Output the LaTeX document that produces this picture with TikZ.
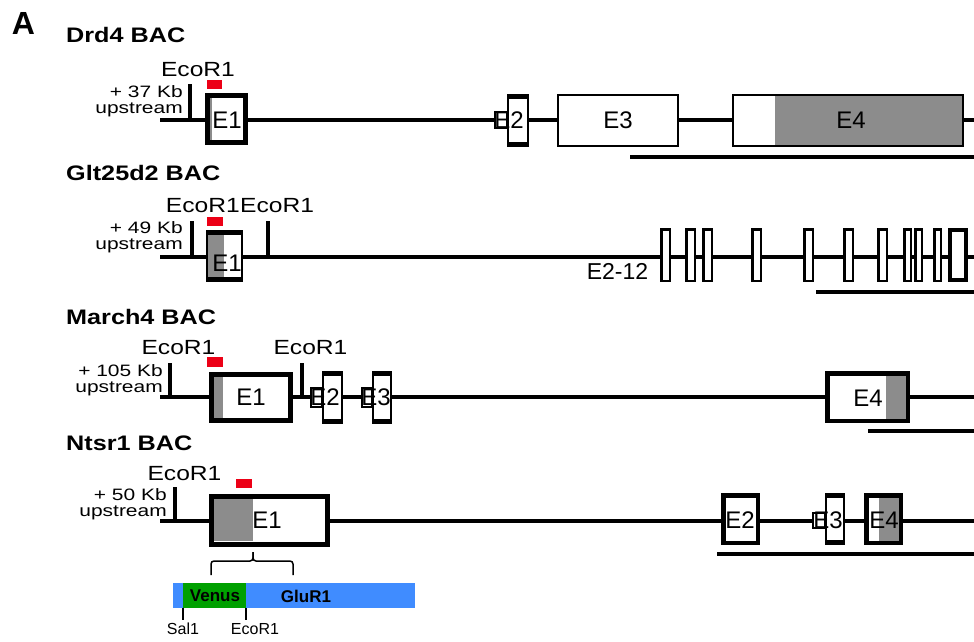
\documentclass[tikz,border=0pt]{standalone}
\usepackage{fontspec}
\setmainfont{Liberation Sans}

\definecolor{probered}{RGB}{236,0,22}
\definecolor{utrgrey}{RGB}{140,140,140}
\definecolor{venusgreen}{RGB}{0,160,0}
\definecolor{glublue}{RGB}{64,140,255}

% exon with thin sides and thick top/bottom: {x1}{x2}{y1}{y2}
\newcommand{\tallexon}[4]{%
  \fill[white] (#1,#3) rectangle (#2,#4);
  \draw[line width=2pt] (#1+1,#3) -- (#1+1,#4) (#2-1,#3) -- (#2-1,#4);
  \draw[line width=5pt] (#1,#3+2.5) -- (#2,#3+2.5) (#1,#4-2.5) -- (#2,#4-2.5);
}

\begin{document}
\begin{tikzpicture}[x=1pt,y=-1pt,
  backbone/.style={line width=3.5pt},
  cutsite/.style={line width=3.5pt},
  probe/.style={fill=probered},
  exon/.style={draw,fill=white,line width=2.5pt},
  bigexon/.style={draw,line width=5pt},
  minibox/.style={draw,fill=white,line width=2pt},
  cover/.style={line width=4.5pt},
  genename/.style={font=\bfseries\fontsize{21}{24}\selectfont,xscale=1.2,anchor=west,inner sep=0},
  enzyme/.style={font=\fontsize{20.5}{24}\selectfont,xscale=1.2,anchor=base,inner sep=0},
  upstr/.style={font=\fontsize{16.5}{15.5}\selectfont,xscale=1.27,align=right,anchor=east,inner sep=0},
  exlabel/.style={font=\fontsize{24}{26}\selectfont,inner sep=0},
  tiny/.style={font=\fontsize{16}{18}\selectfont,anchor=base,inner sep=0},
  ]

\useasboundingbox (0,0) rectangle (974,641);

\node[font=\bfseries\fontsize{32}{34}\selectfont,inner sep=0] (panel) at (23.5,23) {A};

%=== Drd4 ===
\node[genename] (drd4) at (66,35) {Drd4 BAC};
\draw[backbone] (160,120) -- (974,120);
\draw[cutsite] (190,84) -- (190,120);
\node[enzyme] (drd4eco) at (198,76) {EcoR1};
\node[upstr] (drd4up) at (183,101) {+ 37 Kb\\upstream};
\fill[probe] (207,80) rectangle (222,89);
% E1
\fill[white] (205,93) rectangle (248,145);
\fill[utrgrey] (210,98) rectangle (212,140);
\draw[bigexon] (207.5,95.5) rectangle (245.5,142.5);
\node[exlabel] (drd4e1) at (227,120) {E1};
% E2
\draw[minibox] (495,112) rectangle (507,128);
\tallexon{507}{529}{94}{147}
\node[exlabel] (drd4e2) at (509,120) {E2};
% E3, E4
\draw[exon] (558,95) rectangle (678,146);
\node[exlabel] (drd4e3) at (618,120) {E3};
\fill[white] (733,95) rectangle (963,146);
\fill[utrgrey] (775,95) rectangle (963,146);
\draw[line width=2.5pt] (733,95) rectangle (963,146);
\node[exlabel] (drd4e4) at (851,120) {E4};
\draw[cover] (630,157) -- (974,157);

%=== Glt25d2 ===
\node[genename] (glt) at (66,173) {Glt25d2 BAC};
\draw[backbone] (160,257) -- (974,257);
\draw[cutsite] (192,221) -- (192,257);
\draw[cutsite] (268,221) -- (268,257);
\node[enzyme,anchor=base east] (glteco1) at (240,212) {EcoR1};
\node[enzyme,anchor=base west] (glteco2) at (240,212) {EcoR1};
\node[upstr] (gltup) at (183,237) {+ 49 Kb\\upstream};
\fill[probe] (207,217) rectangle (223,226);
% E1
\fill[white] (206,230) rectangle (243,282);
\fill[utrgrey] (207,230) rectangle (224,282);
\draw[line width=2pt] (207,230) -- (207,282) (242,230) -- (242,282);
\draw[line width=5pt] (206,232.5) -- (243,232.5) (206,279.5) -- (243,279.5);
\node[exlabel] (glte1) at (227,263) {E1};
% E2-12
\foreach \xa/\xb in {660/671,685/696,702/713,751/762,803/814,843/854,877/888,903/912,914/923,933/942}
  \draw[exon] (\xa+1.25,229.25) rectangle (\xb-1.25,280.75);
\draw[exon,line width=4pt] (950,230) rectangle (966,280);
\node[font=\fontsize{23}{24}\selectfont,inner sep=0] (glte212) at (617.5,271) {E2-12};
\draw[cover] (816,292) -- (974,292);

%=== March4 ===
\node[genename] (march) at (66,317) {March4 BAC};
\draw[backbone] (160,397) -- (974,397);
\draw[cutsite] (170,363) -- (170,397);
\draw[cutsite] (302,363) -- (302,397);
\node[enzyme] (marcheco1) at (178.5,354) {EcoR1};
\node[enzyme] (marcheco2) at (310.5,354) {EcoR1};
\node[upstr] (marchup) at (163,380) {+ 105 Kb\\upstream};
\fill[probe] (207,357) rectangle (223,367);
% E1
\fill[white] (209,372) rectangle (293,423);
\fill[utrgrey] (211,374) rectangle (223,421);
\draw[bigexon] (211.5,374.5) rectangle (290.5,420.5);
\node[exlabel] (marche1) at (251,397.5) {E1};
% E2, E3
\draw[minibox] (311,388) rectangle (322,407);
\tallexon{322}{343}{371}{424}
\node[exlabel] (marche2) at (325,397.5) {E2};
\draw[minibox] (362,388) rectangle (372,407);
\tallexon{372}{392}{371}{424}
\node[exlabel] (marche3) at (376,397.5) {E3};
% E4
\fill[white] (825,371) rectangle (910,423);
\fill[utrgrey] (886,373) rectangle (908,421);
\draw[bigexon,line width=4.5pt] (827.25,373.25) rectangle (907.75,420.75);
\node[exlabel] (marche4) at (868,398) {E4};
\draw[cover] (868,431) -- (974,431);

%=== Ntsr1 ===
\node[genename] (ntsr) at (66,443) {Ntsr1 BAC};
\draw[backbone] (160,521) -- (974,521);
\draw[cutsite] (175,487) -- (175,521);
\node[enzyme] (ntsreco) at (184.5,480) {EcoR1};
\node[upstr] (ntsrup) at (167,504) {+ 50 Kb\\upstream};
\fill[probe] (236,479) rectangle (252,488);
% E1
\fill[white] (209,494) rectangle (330,547);
\fill[utrgrey] (212,497) rectangle (253,541);
\draw[bigexon] (211.5,496.5) rectangle (327.5,544.5);
\node[exlabel] (ntsre1) at (267,520) {E1};
% E2, E3, E4
\fill[white] (721,493) rectangle (760,545);
\draw[bigexon,line width=4.5pt] (723.25,495.25) rectangle (757.75,542.75);
\node[exlabel] (ntsre2) at (740,520) {E2};
\draw[minibox] (813,513) rectangle (825,528);
\tallexon{825}{845}{493}{545}
\node[exlabel] (ntsre3) at (828,520) {E3};
\fill[white] (864,493) rectangle (903,545);
\fill[utrgrey] (879,495) rectangle (901,543);
\draw[bigexon,line width=4.5pt] (866.25,495.25) rectangle (900.75,542.75);
\node[exlabel] (ntsre4) at (884,520) {E4};
\draw[cover] (717,554) -- (974,554);

% brace and construct
\draw[line width=1.5pt,rounded corners=3pt] (211,575) -- (211,561) -- (253,561) -- (253,552);
\draw[line width=1.5pt,rounded corners=3pt] (253,552) -- (253,561) -- (293,561) -- (293,575);
\fill[glublue] (173,583) rectangle (415,608);
\fill[venusgreen] (183,583) rectangle (246,608);
\node[font=\bfseries\fontsize{17}{18}\selectfont,inner sep=0] (venus) at (215,596) {Venus};
\node[font=\bfseries\fontsize{17}{18}\selectfont,inner sep=0] (glur) at (306,596) {GluR1};
\draw[line width=1.5pt] (183,608) -- (183,620);
\draw[line width=1.5pt] (246,608) -- (246,620);
\node[tiny] (sal) at (183,634) {Sal1};
\node[tiny] (ntsreco2) at (255,634) {EcoR1};

\end{tikzpicture}
\end{document}
